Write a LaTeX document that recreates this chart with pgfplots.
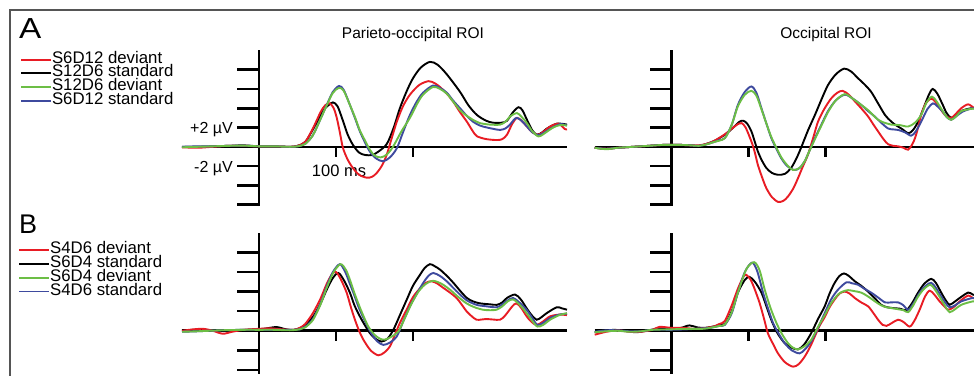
\documentclass[border=0pt]{standalone}
\usepackage{pgfplots}
\pgfplotsset{compat=1.18}
\usepackage{fontspec}
\setmainfont{Liberation Sans}
\definecolor{cred}{RGB}{232,28,36}
\definecolor{cgreen}{RGB}{108,190,69}
\definecolor{cblue}{RGB}{62,74,158}
\definecolor{cborder}{RGB}{85,85,85}
\pgfplotsset{
  erp/.style={hide axis, scale only axis, width=385pt, xmin=-100, xmax=400, clip=false,
    every axis plot/.append style={line width=1.9pt, smooth, tension=0.5, no markers}},
  erpA/.style={erp, ymin=-6.15, ymax=10, height=155.85pt},
  erpB/.style={erp, ymin=-4.4, ymax=10, height=141.1pt},
  leg/.style={legend cell align=left,
    legend style={draw=none, fill=none, inner sep=0pt, row sep=0pt, column sep=0pt,
      font=\fontsize{16.8}{14}\selectfont,
      nodes={inner sep=0pt, text height=10.4pt, text depth=3.3pt}},
    legend image code/.code={\draw[##1, line width=1.9pt] (0pt,0pt) -- (30pt,0pt);}},
}
\newcommand{\axlines}[2]{%
  \draw[line width=2.6pt] (axis cs:-100,0) -- (axis cs:400,0);
  \draw[line width=2.6pt] (axis cs:0,#1) -- (axis cs:0,10);
  \pgfplotsinvokeforeach{#2}{\draw[line width=2.6pt] (axis cs:0,##1) -- ++(-22pt,0pt);}
  \draw[line width=2.6pt] (axis cs:100,0) -- ++(0pt,-10pt);
  \draw[line width=2.6pt] (axis cs:200,0) -- ++(0pt,-10pt);
}
\begin{document}
\begin{tikzpicture}
\path[use as bounding box] (0pt,0pt) rectangle (974pt,-375pt);
\draw[line width=1.3pt, cborder] (10pt,-380pt) -- (10pt,-10pt) -- (980pt,-10pt);
\node[anchor=base west, inner sep=0pt, font=\fontsize{29}{29}\selectfont, xscale=1.15] at (19pt,-38.5pt) {A};
\node[anchor=base west, inner sep=0pt, font=\fontsize{27}{27}\selectfont] at (19pt,-233pt) {B};
\node[anchor=base, inner sep=0pt, font=\fontsize{15.5}{17}\selectfont] at (413pt,-38.5pt) {Parieto-occipital ROI};
\node[anchor=base, inner sep=0pt, font=\fontsize{15.5}{17}\selectfont] at (826pt,-38.5pt) {Occipital ROI};

% ---------------- A left ----------------
\begin{axis}[erpA, leg, at={(182pt,-206.15pt)}, anchor=south west,
  legend style={at={(axis description cs:-0.421,0.985)}, anchor=north west}]
\axlines{-6.15}{8,6,4,2,-2,-4,-6}
\node[anchor=base east, inner sep=0pt, font=\fontsize{16}{16}\selectfont] at ([xshift=-26pt,yshift=-6pt]axis cs:0,2) {+2 µV};
\node[anchor=base east, inner sep=0pt, font=\fontsize{16}{16}\selectfont] at ([xshift=-26pt,yshift=-6pt]axis cs:0,-2) {-2 µV};
\node[anchor=base, inner sep=0pt, font=\fontsize{16.5}{16}\selectfont] at ([xshift=3pt,yshift=-30pt]axis cs:100,0) {100 ms};
\addlegendimage{cred}\addlegendentry{S6D12 deviant}
\addlegendimage{black}\addlegendentry{S12D6 standard}
\addlegendimage{cgreen}\addlegendentry{S12D6 deviant}
\addlegendimage{cblue}\addlegendentry{S6D12 standard}
\addplot[black, forget plot] coordinates {(-100,0)(-80,0.0)(-60,0.05)(-40,0.1)(-20,0.15)(0,0.05)(20,0.05)(40,0)(50,0.1)(60,0.5)(70,1.8)(83,3.7)(90,4.3)(96,4.6)(102,4.2)(109,2.7)(115,1.3)(122,0.2)(130,-0.6)(138,-0.85)(147,-0.85)(155,-0.5)(166,0.3)(175,2.0)(183,4.0)(192,5.8)(200,7.1)(210,8.2)(222,8.8)(232,8.5)(244,7.5)(261,5.7)(272,4.3)(283,3.3)(295,2.7)(304,2.5)(315,2.5)(322,2.7)(330,3.6)(337,4.1)(342,3.8)(348,2.8)(355,1.7)(361,1.25)(368,1.5)(374,1.9)(387,2.4)(400,2.3)};
\addplot[cred, forget plot] coordinates {(-100,-0.05)(-80,-0.1)(-60,0)(-40,0.1)(-20,0.1)(0,0.05)(20,0.05)(40,0)(50,0.1)(60,0.5)(70,1.9)(80,3.6)(86,4.3)(92,4.5)(97,4.0)(101,3.0)(105,1.5)(109,-0.1)(115,-1.3)(122,-2.2)(130,-2.9)(140,-3.2)(147,-3.1)(153,-2.7)(160,-1.9)(166,-0.8)(172,0.8)(179,2.6)(187,4.2)(196,5.4)(208,6.4)(220,6.8)(228,6.6)(235,6.2)(244,5.5)(252,4.7)(261,3.6)(270,2.6)(277,1.7)(283,1.1)(295,0.8)(309,0.7)(316,0.8)(322,1.25)(329,2.4)(335,3.0)(341,2.7)(348,2.1)(355,1.5)(363,1.25)(370,1.6)(378,2.1)(389,2.4)(397,1.85)(400,1.8)};
\addplot[cblue, forget plot] coordinates {(-100,0)(-80,0.05)(-60,0.05)(-40,0.1)(-20,0.12)(0,0.05)(20,0.05)(40,0)(50,0.05)(60,0.3)(70,1.2)(80,2.9)(88,4.35)(96,5.7)(104,6.3)(110,5.9)(118,4.35)(125,2.9)(131,1.6)(138,0.4)(144,-0.5)(152,-1.2)(161,-1.5)(170,-1.1)(179,-0.15)(187,1.5)(196,3.3)(205,4.7)(213,5.6)(226,6.35)(235,6.1)(244,5.6)(252,4.8)(261,4.0)(270,3.2)(278,2.6)(287,2.2)(296,2.0)(305,1.85)(313,1.75)(320,1.9)(326,2.3)(331,2.8)(335,3.0)(341,2.7)(348,2.1)(355,1.5)(363,1.2)(370,1.45)(378,1.85)(391,2.35)(400,2.2)};
\addplot[cgreen, forget plot] coordinates {(-100,-0.05)(-80,0.0)(-60,0.05)(-40,0.1)(-20,0.12)(0,0.05)(20,0.05)(40,0)(50,0.05)(60,0.3)(70,1.2)(80,2.9)(88,4.3)(96,5.6)(104,6.1)(110,5.8)(118,4.35)(125,3.0)(131,1.7)(138,0.6)(144,-0.3)(150,-0.9)(158,-1.1)(166,-0.8)(174,0.0)(185,1.6)(196,3.0)(205,4.4)(213,5.4)(226,6.2)(235,6.0)(244,5.5)(252,4.7)(261,3.8)(270,3.2)(280,2.7)(287,2.45)(300,2.3)(313,2.3)(320,2.6)(327,3.2)(335,3.5)(341,3.1)(348,2.45)(355,1.6)(363,1.07)(370,1.35)(382,2.0)(391,2.25)(400,2.2)};
\end{axis}

% ---------------- A right ----------------
\begin{axis}[erpA, at={(594.7pt,-206.15pt)}, anchor=south west]
\axlines{-6.15}{8,6,4,2,-2,-4,-6}
\addplot[black] coordinates {(-100,-0.1)(-85,-0.2)(-70,-0.1)(-50,0)(-30,0.1)(-10,0.2)(10,0.2)(25,0.15)(35,0.1)(45,0.3)(55,0.6)(69,1.25)(80,2.0)(88,2.6)(93,2.7)(98,2.4)(103.5,1.6)(108,0.5)(112,-0.5)(117,-1.4)(123,-2.2)(130,-2.7)(138,-2.9)(147,-2.8)(155,-2.2)(162,-1.2)(168,-0.1)(177,1.7)(186,3.3)(195,5.0)(203,6.4)(213,7.5)(224,8.1)(233,7.8)(242,7.1)(250,6.5)(259,5.7)(268,4.5)(277,3.3)(284,2.7)(290,2.3)(300,1.8)(307,1.4)(313,1.7)(320,2.6)(328,4.2)(334,5.4)(339,6.0)(345,5.5)(352,4.35)(357,3.5)(363,3.0)(370,3.3)(376,3.7)(389,4.0)(400,3.9)};
\addplot[cred] coordinates {(-100,-0.1)(-85,-0.2)(-70,-0.1)(-50,0)(-30,0.1)(-10,0.2)(10,0.2)(25,0.15)(35,0.15)(45,0.3)(55,0.6)(69,1.3)(80,2.0)(87,2.4)(91,2.45)(96,2.0)(103.5,0.55)(108,-0.6)(112,-1.9)(118,-3.3)(123,-4.3)(130,-5.2)(138,-5.7)(145,-5.6)(151,-5.15)(158,-4.3)(164,-3.25)(170,-2.1)(177,-0.8)(184,1.0)(190,2.6)(198,3.9)(207,5.0)(215,5.6)(222,5.8)(230,5.4)(238,4.7)(246,4.0)(255,3.15)(262,2.3)(268,1.6)(275,0.8)(281,0.27)(288,0.1)(294,0.05)(301,-0.1)(307,-0.3)(312,0.2)(316,0.9)(320,2.0)(324,3.3)(330,4.5)(337,5.0)(343,4.6)(350,3.8)(356,3.2)(363,3.0)(370,3.5)(376,4.0)(385,4.4)(393,4.0)(400,3.8)};
\addplot[cblue] coordinates {(-100,-0.1)(-85,-0.2)(-70,-0.1)(-50,0)(-30,0.1)(-10,0.2)(10,0.2)(25,0.15)(35,0.1)(45,0.25)(55,0.5)(62,0.7)(69,0.9)(78,2.3)(86,4.35)(95,5.7)(103.5,6.25)(110,5.6)(116.5,4.0)(123,2.4)(129.4,0.9)(136,-0.2)(142.4,-1.2)(150,-2.0)(159,-2.4)(166,-2.2)(172.7,-1.5)(179,-0.4)(186,0.9)(195,2.4)(203,3.7)(213,4.8)(224.7,5.4)(235,5.0)(246,4.35)(255,3.7)(263.6,3.15)(272,2.5)(281,1.9)(288,1.8)(294,1.75)(303,1.5)(311,1.15)(317,1.6)(324,2.6)(332,3.9)(339.4,4.5)(345,4.2)(352,3.65)(357,3.1)(363,2.8)(370,3.2)(378,3.65)(391,4.0)(400,3.9)};
\addplot[cgreen] coordinates {(-100,-0.1)(-85,-0.25)(-70,-0.1)(-50,0)(-30,0.1)(-10,0.2)(10,0.2)(25,0.15)(35,0.1)(45,0.25)(55,0.5)(69,0.9)(78,2.3)(86,4.2)(95,5.4)(103.5,5.8)(110,5.3)(116.5,3.9)(123,2.4)(129.4,1.0)(136,-0.1)(142.4,-1.1)(150,-1.9)(157.5,-2.4)(166,-2.2)(172.7,-1.5)(179,-0.4)(186,0.8)(195,2.3)(203,3.6)(213,4.8)(224.7,5.45)(235,5.0)(246,4.35)(255,3.8)(268,2.8)(278,2.45)(285,2.3)(296,2.25)(307,2.1)(316,2.5)(324,3.3)(331,4.6)(338,5.2)(344,4.7)(352,3.7)(357,3.1)(363,2.8)(370,3.2)(376,3.7)(391,3.95)(400,3.85)};
\end{axis}

% ---------------- B left ----------------
\begin{axis}[erpB, leg, at={(182pt,-373.9pt)}, anchor=south west,
  legend style={at={(axis description cs:-0.426,0.925)}, anchor=north west}]
\axlines{-4.4}{8,6,4,2,-2,-4}
\addlegendimage{cred}\addlegendentry{S4D6 deviant}
\addlegendimage{black}\addlegendentry{S6D4 standard}
\addlegendimage{cgreen}\addlegendentry{S6D4 deviant}
\addlegendimage{cblue}\addlegendentry{S4D6 standard}
\addplot[black, forget plot] coordinates {(-100,0.05)(-80,0.1)(-60,0.05)(-40,0.05)(-20,0.1)(0,0.15)(10,0.25)(23,0.38)(35,0.15)(45,0.1)(53,0.27)(60,0.6)(70.5,1.47)(80,2.8)(88,4.2)(96,5.4)(103,5.9)(110,5.2)(118,3.9)(124,2.6)(131,1.47)(138,0.5)(144,-0.24)(151,-0.8)(159,-1.1)(167,-0.8)(174.5,0.1)(183,1.6)(192,3.2)(200,4.6)(209,5.7)(215,6.4)(222,6.8)(228,6.6)(235,6.25)(244,5.6)(252.4,4.9)(261,4.1)(270,3.35)(278,3.0)(287,2.8)(300,2.7)(309,2.65)(316,2.9)(322,3.35)(332.5,3.7)(340,3.2)(347.6,2.3)(354,1.6)(360.6,1.13)(367,1.4)(373.6,1.8)(386.6,2.4)(393,2.3)(400,2.15)};
\addplot[cred, forget plot] coordinates {(-100,0.0)(-85,0.15)(-72,0.2)(-60,0.0)(-47,-0.3)(-35,-0.1)(-20,0.1)(0,0.2)(15,0.25)(30,0.15)(45,0.1)(53,0.3)(60,0.7)(70,1.8)(80,3.3)(88,4.8)(95,5.8)(100,6.0)(106,5.3)(113.8,3.9)(119,2.5)(124.6,1.13)(130,0.0)(135.5,-0.9)(145,-2.0)(155,-2.5)(163,-2.2)(170,-1.6)(176,-0.5)(183,0.8)(192,2.2)(200.5,3.5)(210,4.4)(217,4.9)(224,5.06)(232,4.8)(239,4.4)(248,3.9)(256.6,3.35)(263,2.7)(269.5,2.0)(276,1.5)(282.5,1.13)(289,1.15)(295.5,1.2)(304,1.15)(313,1.13)(319,1.5)(324,2.0)(329,2.5)(334,2.8)(340,2.4)(347.6,1.47)(354,0.9)(360.6,0.6)(368,0.9)(378,1.47)(390,1.65)(400,1.6)};
\addplot[cblue, forget plot] coordinates {(-100,-0.1)(-80,-0.05)(-50,0.05)(-20,0.1)(0,0.1)(20,0.1)(40,0.1)(53,0.15)(60,0.4)(70,1.2)(80,2.8)(88,4.55)(96,6.0)(105,6.8)(112,6.0)(118,4.8)(122.5,3.9)(130,2.3)(140,0.6)(147,-0.4)(154,-1.1)(161.5,-1.44)(170,-1.2)(178.8,-0.6)(187,0.9)(196,2.5)(205,3.8)(213.4,4.9)(220,5.6)(226.4,5.9)(235,5.6)(243.7,5.06)(252,4.4)(261,3.7)(270,3.1)(282.5,2.65)(295,2.5)(308.6,2.4)(316,2.7)(323,3.1)(330,3.35)(338,2.9)(347.6,2.15)(355,1.3)(361.5,0.6)(369,0.8)(378,1.3)(390,1.65)(400,1.75)};
\addplot[cgreen, forget plot] coordinates {(-100,-0.1)(-80,-0.05)(-50,0.05)(-20,0.1)(0,0.1)(20,0.1)(40,0.05)(53,0.15)(60,0.35)(70,1.1)(80,2.7)(88,4.4)(97,6.0)(106,6.8)(113,6.2)(119,5.0)(124.6,3.7)(133,2.0)(142,0.43)(150,-0.4)(157,-0.8)(163.6,-0.9)(172,-0.6)(181,-0.07)(190,1.4)(198.3,2.8)(208,4.1)(217,4.8)(226,5.1)(237,4.8)(248,4.2)(258,3.5)(269.5,2.8)(280,2.4)(291,2.15)(300,2.1)(308.6,2.15)(316,2.5)(323,3.0)(330,3.2)(338,2.7)(347.6,1.8)(355,1.0)(361.5,0.43)(369,0.6)(378,1.13)(390,1.6)(400,1.8)};
\end{axis}

% ---------------- B right ----------------
\begin{axis}[erpB, at={(594.7pt,-373.9pt)}, anchor=south west]
\axlines{-4.4}{8,6,4,2,-2,-4}
\addplot[black] coordinates {(-100,-0.15)(-85,0.0)(-76,0.1)(-60,0.0)(-46,-0.15)(-30,0.05)(-15,0.25)(0,0.2)(12,0.3)(23,0.55)(33,0.35)(43,0.3)(55,0.45)(62,0.6)(69,0.7)(78,2.0)(86,3.9)(95,5.2)(101,5.5)(108,5.0)(116.5,3.9)(123,2.5)(129.4,1.1)(137,-0.2)(146.7,-1.26)(155,-1.7)(164,-1.9)(172,-1.4)(181,-0.27)(190,1.2)(198.7,2.5)(205,3.8)(211.7,4.9)(218,5.6)(223.8,5.85)(230,5.6)(237.7,5.06)(246,4.6)(255,4.0)(264,3.3)(272,2.65)(280,2.4)(289.6,2.3)(297,2.25)(304.7,2.1)(312,2.8)(320,3.9)(328,4.8)(337,5.3)(343,4.9)(350,3.9)(356,3.1)(361,2.65)(368,3.0)(374,3.35)(385,3.9)(391,3.7)(400,3.5)};
\addplot[cred] coordinates {(-100,-0.4)(-85,-0.1)(-70,0.05)(-55,-0.1)(-40,-0.1)(-25,0.1)(-16,0.4)(0,0.3)(15,0.3)(30,0.2)(45,0.3)(55,0.45)(62,0.7)(69,1.0)(78,2.6)(86,4.3)(93,5.5)(97,5.7)(102.6,5.2)(108,4.2)(114.3,2.8)(120,1.2)(125,-0.27)(132,-1.4)(138,-2.3)(147,-3.2)(157.5,-3.66)(165,-3.4)(173,-2.6)(180,-1.6)(185.7,-0.6)(192,0.5)(198.7,1.4)(205,2.4)(211.7,3.2)(218,3.8)(224.7,4.0)(231,3.8)(237.7,3.35)(246,2.9)(255,2.5)(262,1.8)(268,1.13)(274,0.6)(279,0.5)(286,0.8)(294,1.13)(301,0.9)(309,0.43)(315,1.0)(322,2.15)(329,3.5)(335,4.1)(341,3.7)(348,3.0)(354,2.5)(359,2.15)(366,2.4)(374,3.0)(385,3.6)(391,3.35)(400,3.2)};
\addplot[cblue] coordinates {(-100,-0.1)(-85,0.05)(-70,0.05)(-55,-0.05)(-40,-0.05)(-25,0.1)(0,0.1)(20,0.15)(40,0.25)(50,0.3)(62,0.5)(69,0.6)(78,1.8)(86,3.9)(95,6.0)(104.3,6.95)(111,6.1)(118.6,3.9)(125,2.3)(131.6,0.8)(139,-0.3)(146.7,-1.26)(156,-2.0)(166,-2.3)(173,-1.9)(181,-1.1)(190,0.3)(198.7,1.8)(207,3.2)(216,4.2)(227,4.95)(234,4.85)(242,4.7)(250,4.3)(259,3.9)(268,3.4)(277,2.9)(285,2.9)(294,2.9)(301,2.6)(307,2.15)(314,2.8)(322,3.9)(330,4.6)(337,4.9)(343,4.4)(350,3.5)(356,2.8)(361,2.4)(368,2.6)(376,3.0)(391,3.35)(400,3.3)};
\addplot[cgreen] coordinates {(-100,-0.15)(-85,-0.05)(-70,0.0)(-55,-0.1)(-40,-0.05)(-25,0.1)(0,0.15)(20,0.2)(40,0.2)(50,0.3)(62,0.5)(69,0.65)(78,1.9)(86,3.9)(97,6.3)(107,7.0)(114,6.2)(120.8,4.2)(128,2.4)(136,0.8)(143,-0.3)(151,-1.26)(157,-1.7)(164,-1.9)(172,-1.6)(181,-0.95)(190,0.4)(198.7,1.6)(207,2.8)(216,3.7)(222,4.0)(229,4.15)(237,4.05)(246,3.9)(255,3.5)(264,3.0)(272,2.6)(279,2.4)(287,2.3)(294,2.2)(301,2.1)(307,1.9)(313,2.5)(320,3.5)(328,4.3)(336,4.7)(342,4.2)(350,3.2)(356,2.4)(361,1.9)(368,2.2)(376,2.65)(391,3.0)(400,3.0)};
\end{axis}
\end{tikzpicture}
\end{document}
